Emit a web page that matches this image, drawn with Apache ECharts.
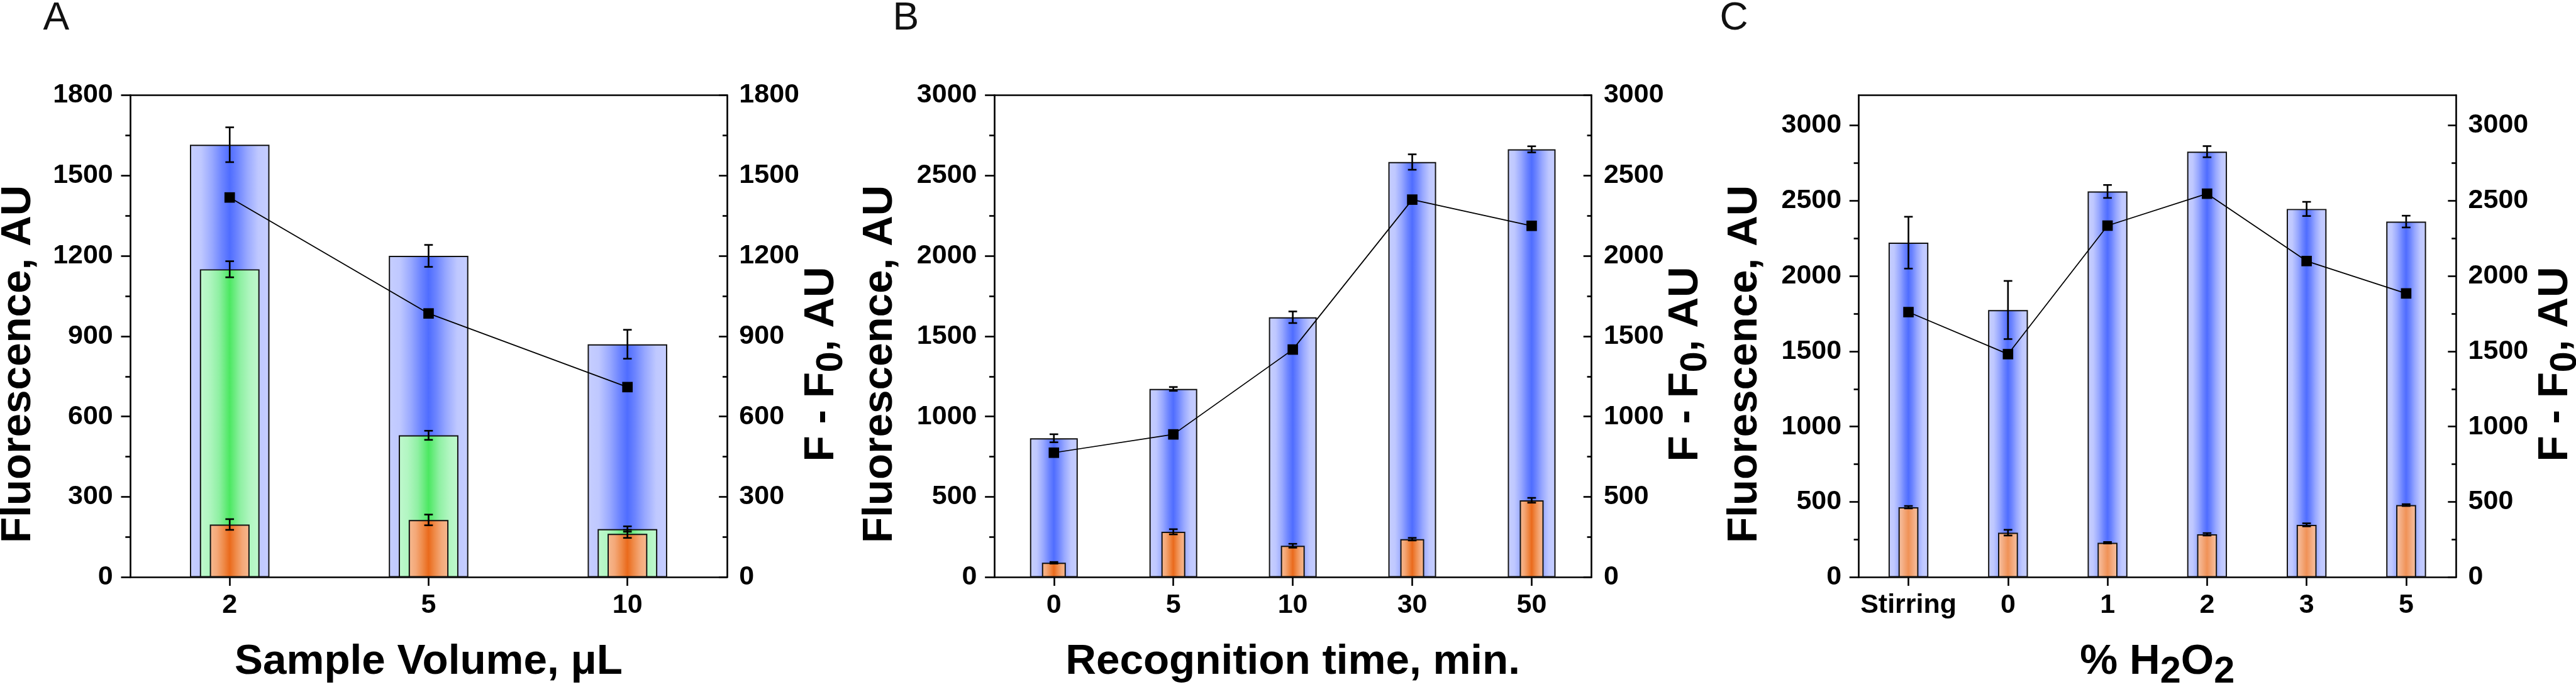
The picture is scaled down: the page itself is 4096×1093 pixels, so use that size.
<!DOCTYPE html>
<html><head><meta charset="utf-8">
<script src="https://cdn.jsdelivr.net/npm/echarts@6/dist/echarts.min.js"></script>
<style>html,body{margin:0;padding:0;background:#fff;} #c{width:4096px;height:1093px;}</style>
</head><body><div id="c"></div><script>
// ---------------- DATA ----------------
const catsA = ['2', '5', '10'];
const blueA = [1615, 1200, 870];
const blueErrA = [65, 41, 54];
const greenA = [1150, 530, 180];
const greenErrA = [30, 17, 10];
const orangeA = [197, 214, 162];
const orangeErrA = [20, 20, 15];
const lineA = [1418, 985, 710];
const majorA = [0, 300, 600, 900, 1200, 1500, 1800];
const minorA = [150, 450, 750, 1050, 1350, 1650];

const catsB = ['0', '5', '10', '30', '50'];
const blueB = [865, 1172, 1618, 2584, 2663];
const blueErrB = [25, 12, 36, 48, 19];
const orangeB = [90, 283, 196, 237, 479];
const orangeErrB = [5, 16, 12, 8, 15];
const lineB = [775, 889, 1417, 2350, 2187];
const majorB = [0, 500, 1000, 1500, 2000, 2500, 3000];
const minorB = [250, 750, 1250, 1750, 2250, 2750];

const catsC = ['Stirring', '0', '1', '2', '3', '5'];
const blueC = [2221, 1774, 2561, 2825, 2445, 2361];
const blueErrC = [172, 193, 43, 37, 47, 39];
const orangeC = [465, 296, 229, 285, 348, 479];
const orangeErrC = [8, 19, 5, 8, 10, 6];
const lineC = [1760, 1481, 2334, 2546, 2099, 1884];
const majorC = [0, 500, 1000, 1500, 2000, 2500, 3000];
const minorC = [250, 750, 1250, 1750, 2250, 2750];

// ---------------- STYLE ----------------
const S = 0.977;
const FONT = "'Liberation Sans', Arial, Helvetica, sans-serif";
const LETTER_FONT = "'Liberation Sans Narrow', 'Arial Narrow', 'Liberation Sans', sans-serif";
const LW = 2.7 * S;
const TICK_FS = 44 * S;
const TITLE_FS = 69 * S;

function grad(stops) {
  return { type: 'linear', x: 0, y: 0, x2: 1, y2: 0,
    colorStops: stops.map(s => ({ offset: s[0], color: s[1] })) };
}
const blueGrad = grad([[0,'#c6ceff'],[0.14,'#bfc8ff'],[0.28,'#98a8ff'],[0.4,'#6d85ff'],[0.5,'#4f6dff'],[0.6,'#6d85ff'],[0.72,'#98a8ff'],[0.86,'#bfc8ff'],[1,'#c6ceff']]);
const greenGrad = grad([[0,'#bff8cd'],[0.15,'#b2f6c2'],[0.32,'#8ff0a3'],[0.5,'#4ce862'],[0.68,'#8ff0a3'],[0.85,'#b2f6c2'],[1,'#bff8cd']]);
const orangeGradDeep = grad([[0,'#f6b990'],[0.18,'#f4a878'],[0.35,'#ef8a48'],[0.5,'#ea6a1c'],[0.65,'#ef8a48'],[0.82,'#f4a878'],[1,'#f6b990']]);
const orangeGradLight = grad([[0,'#f5c2a2'],[0.2,'#f4b088'],[0.5,'#f09257'],[0.8,'#f4b088'],[1,'#f5c2a2']]);

const panels = [
  { cats: catsA, blue: blueA, blueErr: blueErrA, green: greenA, greenErr: greenErrA,
    orange: orangeA, orangeErr: orangeErrA, line: lineA, max: 1800, major: majorA, minor: minorA,
    l: 212, r: 1183, og: orangeGradDeep, letter: 'A', letterX: 70,
    xTitle: '{a|Sample Volume, μL}', yTitleX: 30, rTitleX: 1337 },
  { cats: catsB, blue: blueB, blueErr: blueErrB,
    orange: orangeB, orangeErr: orangeErrB, line: lineB, max: 3000, major: majorB, minor: minorB,
    l: 1618, r: 2590, og: orangeGradDeep, letter: 'B', letterX: 1453,
    xTitle: '{a|Recognition time, min.}', yTitleX: 1432, rTitleX: 2744 },
  { cats: catsC, blue: blueC, blueErr: blueErrC,
    orange: orangeC, orangeErr: orangeErrC, line: lineC, max: 3200, major: majorC, minor: minorC,
    l: 3025, r: 3997, og: orangeGradLight, letter: 'C', letterX: 2799,
    xTitle: '{a|% H}{s|2}{a|O}{s|2}', yTitleX: 2840, rTitleX: 4159 }
];

const TOP = 155, BOTTOM = 940;

function errRender(params, api) {
  const i = api.value(0), v = api.value(1), e = api.value(2);
  const p1 = api.coord([i, v + e]);
  const p2 = api.coord([i, v - e]);
  const hw = 7 * S;
  const st = { stroke: '#000', lineWidth: 2.7 * S };
  return { type: 'group', children: [
    { type: 'line', shape: { x1: p1[0], y1: p1[1], x2: p2[0], y2: p2[1] }, style: st },
    { type: 'line', shape: { x1: p1[0] - hw, y1: p1[1], x2: p1[0] + hw, y2: p1[1] }, style: st },
    { type: 'line', shape: { x1: p2[0] - hw, y1: p2[1], x2: p2[0] + hw, y2: p2[1] }, style: st }
  ]};
}

const grids = [], xAxes = [], yAxes = [], series = [], graphics = [];
const labelStyle = { fontSize: TICK_FS, fontWeight: 'bold', color: '#000', fontFamily: FONT };
const axLine = { show: true, onZero: false, lineStyle: { color: '#000', width: LW } };

panels.forEach((p, g) => {
  grids.push({ left: p.l * S, width: (p.r - p.l) * S, top: TOP * S, height: (BOTTOM - TOP) * S,
    containLabel: false, outerBoundsMode: 'none', show: false });
  const xb = xAxes.length, yb = yAxes.length;
  xAxes.push({ type: 'category', gridIndex: g, position: 'bottom', data: p.cats,
    axisLine: axLine,
    axisTick: { show: true, alignWithLabel: true, length: 14 * S, lineStyle: { color: '#000', width: LW } },
    axisLabel: Object.assign({ margin: 23, interval: 0 }, labelStyle), splitLine: { show: false } });
  xAxes.push({ type: 'category', gridIndex: g, position: 'top', data: p.cats,
    axisLine: axLine, axisTick: { show: false }, axisLabel: { show: false }, splitLine: { show: false } });
  xAxes.push({ type: 'category', gridIndex: g, data: p.cats, show: false, axisLine: { onZero: false } });
  xAxes.push({ type: 'category', gridIndex: g, data: p.cats, show: false, axisLine: { onZero: false } });

  const fmt = v => String(v);
  // left major
  yAxes.push({ type: 'value', gridIndex: g, position: 'left', min: 0, max: p.max,
    axisLine: axLine,
    axisTick: { show: true, length: 15 * S, customValues: p.major, lineStyle: { color: '#000', width: LW } },
    axisLabel: Object.assign({ margin: 28 * S, customValues: p.major, formatter: fmt }, labelStyle),
    splitLine: { show: false } });
  // left minor
  yAxes.push({ type: 'value', gridIndex: g, position: 'left', min: 0, max: p.max,
    axisLine: { show: false, onZero: false },
    axisTick: { show: true, length: 8 * S, customValues: p.minor, lineStyle: { color: '#000', width: LW } },
    axisLabel: { show: false }, splitLine: { show: false } });
  // right major
  yAxes.push({ type: 'value', gridIndex: g, position: 'right', min: 0, max: p.max,
    axisLine: axLine,
    axisTick: { show: true, inside: true, length: 13 * S, customValues: p.major, lineStyle: { color: '#000', width: LW } },
    axisLabel: Object.assign({ margin: 20 * S, customValues: p.major, formatter: fmt }, labelStyle),
    splitLine: { show: false } });
  // right minor
  yAxes.push({ type: 'value', gridIndex: g, position: 'right', min: 0, max: p.max,
    axisLine: { show: false, onZero: false },
    axisTick: { show: true, inside: true, length: 7 * S, customValues: p.minor, lineStyle: { color: '#000', width: LW } },
    axisLabel: { show: false }, splitLine: { show: false } });

  const border = { borderColor: '#111', borderWidth: 2 * S };
  series.push({ type: 'bar', xAxisIndex: xb, yAxisIndex: yb, data: p.blue, barWidth: '40%', z: 2,
    itemStyle: Object.assign({ color: blueGrad }, border) });
  series.push({ type: 'custom', xAxisIndex: xb, yAxisIndex: yb, z: 3, renderItem: errRender,
    encode: { x: 0, y: 1 }, data: p.blue.map((v, i) => [i, v, p.blueErr[i]]) });
  if (p.green) {
    series.push({ type: 'bar', xAxisIndex: xb + 2, yAxisIndex: yb, data: p.green, barWidth: '30%', z: 4,
      itemStyle: Object.assign({ color: greenGrad }, border) });
    series.push({ type: 'custom', xAxisIndex: xb, yAxisIndex: yb, z: 5, renderItem: errRender,
      encode: { x: 0, y: 1 }, data: p.green.map((v, i) => [i, v, p.greenErr[i]]) });
  }
  series.push({ type: 'bar', xAxisIndex: xb + 3, yAxisIndex: yb, data: p.orange, barWidth: '20%', z: 6,
    itemStyle: Object.assign({ color: p.og }, border) });
  series.push({ type: 'custom', xAxisIndex: xb, yAxisIndex: yb, z: 7, renderItem: errRender,
    encode: { x: 0, y: 1 }, data: p.orange.map((v, i) => [i, v, p.orangeErr[i]]) });
  series.push({ type: 'line', xAxisIndex: xb, yAxisIndex: yb + 2, data: p.line, z: 8,
    symbol: 'rect', symbolSize: 17 * S, showAllSymbol: true,
    itemStyle: { color: '#000' }, lineStyle: { color: '#000', width: 1.8 * S } });

  // titles
  const rich = {
    a: { fontSize: TITLE_FS, fontWeight: 'bold', fontFamily: FONT, fill: '#000', color: '#000' },
    s: { fontSize: TITLE_FS * 0.88, fontWeight: 'bold', fontFamily: FONT, fill: '#000', color: '#000', padding: [32, 0, 0, 0] }
  };
  graphics.push({ type: 'text', x: p.letterX * S, y: 30 * S, z: 100,
    style: { text: p.letter, fontSize: 64 * S, fontFamily: LETTER_FONT, fill: '#111',
      align: 'left', verticalAlign: 'middle', textAlign: 'left', textVerticalAlign: 'middle' } });
  graphics.push({ type: 'text', x: (p.l + p.r) / 2 * S, y: 1078 * S, z: 100,
    style: { text: p.xTitle, rich: rich, fontSize: TITLE_FS, fontWeight: 'bold', fontFamily: FONT, fill: '#000',
      align: 'center', verticalAlign: 'middle', textAlign: 'center', textVerticalAlign: 'middle' } });
  graphics.push({ type: 'text', x: p.yTitleX * S, y: 593 * S, rotation: Math.PI / 2, z: 100,
    style: { text: '{a|Fluorescence, AU}', rich: rich, fontSize: TITLE_FS, fontWeight: 'bold', fontFamily: FONT, fill: '#000',
      align: 'center', verticalAlign: 'middle', textAlign: 'center', textVerticalAlign: 'middle' } });
  graphics.push({ type: 'text', x: p.rTitleX * S, y: 593 * S, rotation: Math.PI / 2, z: 100,
    style: { text: '{a|F - F}{s|0}{a|, AU}', rich: rich, fontSize: TITLE_FS, fontWeight: 'bold', fontFamily: FONT, fill: '#000',
      align: 'center', verticalAlign: 'middle', textAlign: 'center', textVerticalAlign: 'middle' } });
});

const chart = echarts.init(document.getElementById('c'), null, { renderer: 'canvas' });
chart.setOption({
  animation: false,
  backgroundColor: '#fff',
  grid: grids,
  xAxis: xAxes,
  yAxis: yAxes,
  series: series,
  graphic: graphics
});
</script></body></html>
